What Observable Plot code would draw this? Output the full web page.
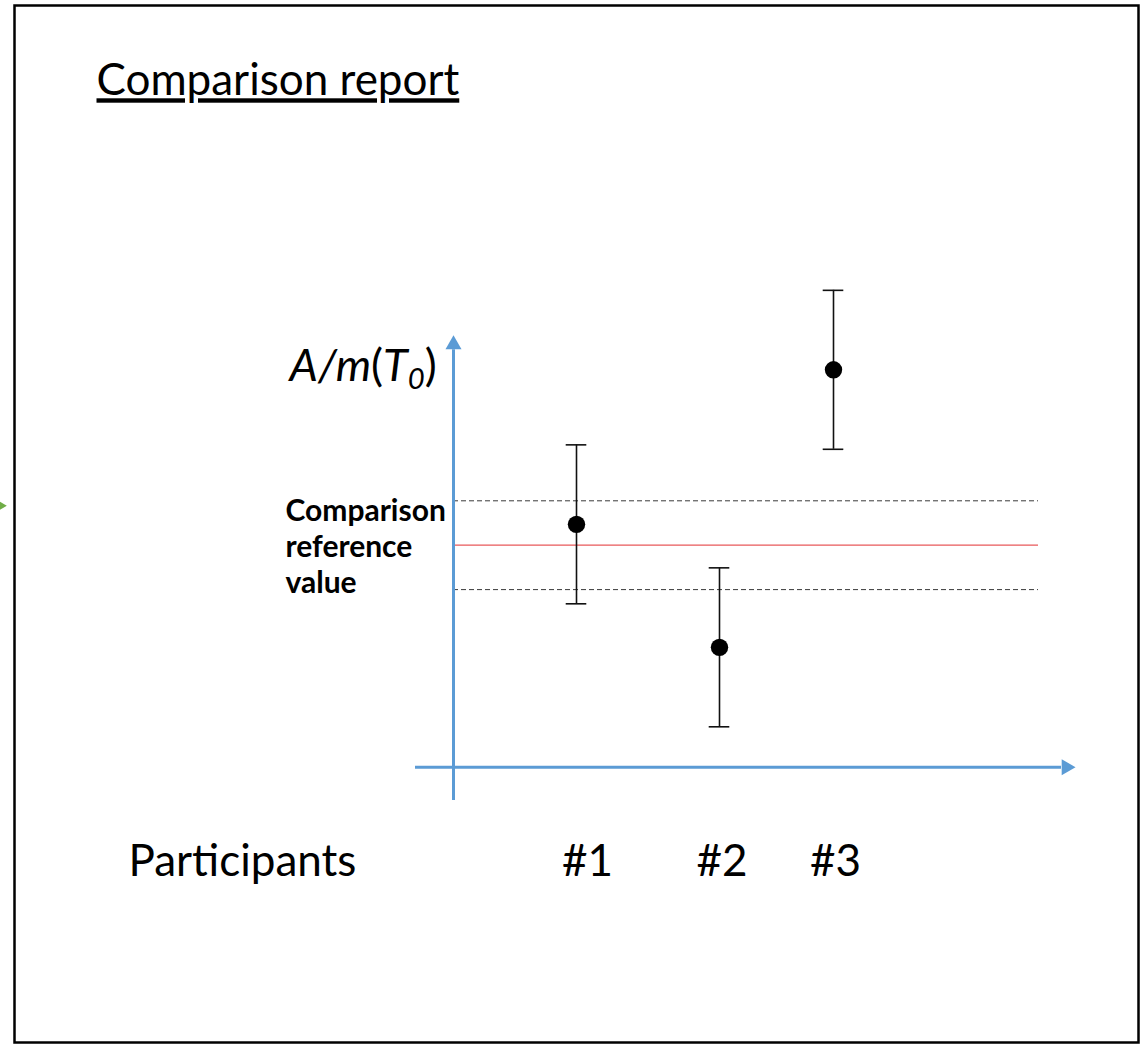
<!DOCTYPE html>
<html>
<head>
<meta charset="utf-8">
<script src="https://cdn.jsdelivr.net/npm/d3@7"></script>
<script src="https://cdn.jsdelivr.net/npm/@observablehq/plot@0.6"></script>
<style>
  body { margin: 0; background: #fff; }
  #chart svg { display: block; }
</style>
</head>
<body>
<div id="chart"></div>
<script>
// ---- data ----
const participants = ["#1", "#2", "#3"];
const participantX = [1.23, 2.66, 3.80];      // horizontal position of each participant
const labelX = [1.34, 2.685, 3.82];           // horizontal position of each tick label
const values = [54.7, 27.0, 89.5];            // A/m(T0) reported by each participant
const uncertainties = [17.9, 17.9, 17.9];     // expanded uncertainty of each participant
const referenceValue = 50;                    // comparison reference value
const referenceUncertainty = 10;              // its uncertainty band
const titleText = "Comparison report";
const xLabelText = "Participants";
const yLabelText = "A/m(T0)";
const refLabelText = "Comparison\nreference\nvalue";

const data = participants.map((p, i) => ({
  p, x: participantX[i], lx: labelX[i], v: values[i], u: uncertainties[i]
}));

const blue = "#5b9bd5";
const font = "Lato, Carlito, Calibri, sans-serif";

const chart = Plot.plot({
  width: 1140,
  height: 1046,
  marginLeft: 14, marginRight: 2, marginTop: 5, marginBottom: 4,
  x: {type: "linear", domain: [-4.39, 6.85], axis: null},
  y: {type: "linear", domain: [-62.0, 171.55], axis: null},
  style: {background: "#fff", fontFamily: font},
  marks: [
    Plot.frame({stroke: "#000", strokeWidth: 2.5}),
    // uncertainty band of the reference value
    Plot.ruleY([referenceValue - referenceUncertainty, referenceValue + referenceUncertainty],
      {x1: 0, x2: 5.85, stroke: "#3a3a3a", strokeWidth: 1, strokeDasharray: "5,3"}),
    Plot.ruleY([referenceValue], {x1: 0, x2: 5.85, stroke: "#e8585a", strokeWidth: 1.3}),
    // axes with arrows
    Plot.ruleX([0], {y1: -7.5, y2: 94, stroke: blue, strokeWidth: 3}),
    Plot.ruleY([0], {x1: -0.38, x2: 6.08, stroke: blue, strokeWidth: 3}),
    Plot.dot([{}], {x: () => 0, y: () => 95.2, symbol: "triangle", r: 5.94, fill: blue, stroke: "none"}),
    Plot.dot([{}], {x: () => 6.128, y: () => 0, symbol: "triangle", r: 5.94, rotate: 90, fill: blue, stroke: "none"}),
    // stray green arrow at the left edge
    Plot.dot([{}], {x: () => -4.56, y: () => 58.9, symbol: "triangle", r: 6, rotate: 90, fill: "#70ad47", stroke: "none"}),
    // error bars
    Plot.ruleX(data, {x: "x", y1: d => d.v - d.u, y2: d => d.v + d.u, stroke: "#111", strokeWidth: 1.6}),
    Plot.ruleY(data, {y: d => d.v + d.u, x1: d => d.x - 0.103, x2: d => d.x + 0.103, stroke: "#111", strokeWidth: 1.6}),
    Plot.ruleY(data, {y: d => d.v - d.u, x1: d => d.x - 0.103, x2: d => d.x + 0.103, stroke: "#111", strokeWidth: 1.6}),
    Plot.dot(data, {x: "x", y: "v", r: 8.7, fill: "#000", stroke: "none"}),
    // texts
    Plot.text([titleText], {x: () => -3.57, y: () => 154.5, text: d => d, textAnchor: "start", fontSize: 44, fill: "#000"}),
    Plot.text([xLabelText], {x: () => -3.25, y: () => -21.4, text: d => d, textAnchor: "start", fontSize: 44, fill: "#000"}),
    Plot.text(data, {x: "lx", y: () => -21.4, text: "p", textAnchor: "middle", fontSize: 44, fill: "#000"}),
    Plot.text([yLabelText], {x: () => -1.64, y: () => 90.3, text: d => d, textAnchor: "start", fontSize: 45, fill: "#000"}),
    Plot.text([refLabelText], {x: () => -1.68, y: () => referenceValue, text: d => d, textAnchor: "start", fontSize: 30, fontWeight: "bold", lineHeight: 1.2, fill: "#000"})
  ]
});

// styling of the title and the y label
const svg = d3.select(chart);
svg.selectAll("text").each(function () {
  const t = d3.select(this);
  const s = this.textContent;
  if (s === titleText) {
    t.attr("text-decoration", "underline");
  } else if (s === yLabelText) {
    t.text(null);
    t.append("tspan").attr("font-style", "italic").text("A/m");
    t.append("tspan").text("(");
    t.append("tspan").attr("font-style", "italic").text("T");
    t.append("tspan").attr("font-style", "italic").attr("font-size", "0.65em").attr("dy", "0.3em").text("0");
    t.append("tspan").attr("dy", "-0.195em").text(")");
  }
});

document.getElementById("chart").appendChild(chart);
</script>
</body>
</html>
